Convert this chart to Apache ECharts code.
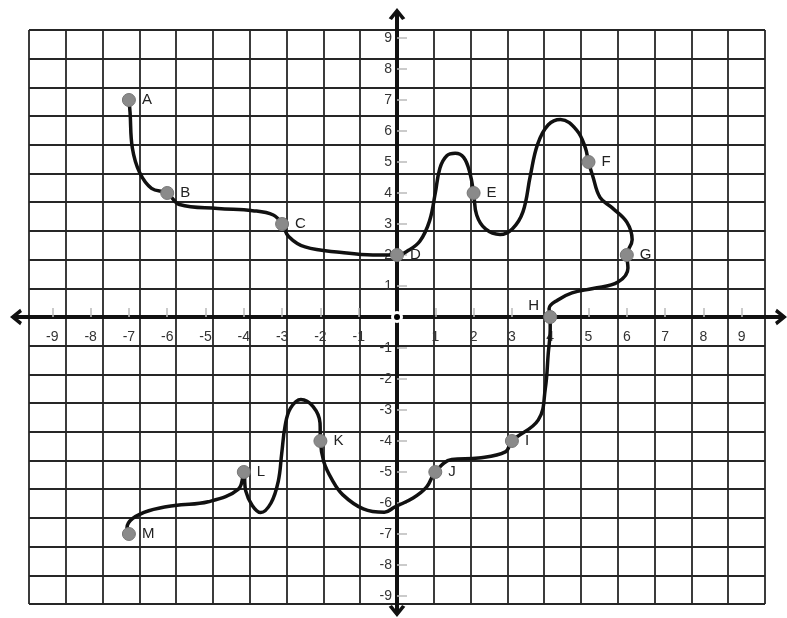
<!DOCTYPE html>
<html>
<head>
<meta charset="utf-8">
<script src="https://cdn.jsdelivr.net/npm/echarts@6/dist/echarts.min.js"></script>
<style>
html,body{margin:0;padding:0;background:#fff;}
#chart{width:787px;height:618px;}
</style>
</head>
<body>
<div id="chart"></div>
<script>
// tick labels on both axes (no 0)
var xTicks = [-9,-8,-7,-6,-5,-4,-3,-2,-1,1,2,3,4,5,6,7,8,9];
var yTicks = [-9,-8,-7,-6,-5,-4,-3,-2,-1,1,2,3,4,5,6,7,8,9];

// labelled points
var pointNames = ['A','B','C','D','E','F','G','H','I','J','K','L','M'];
var pointX = [-7,-6,-3,0,2,5,6,4,3,1,-2,-4,-7];
var pointY = [7,4,3,2,4,5,2,0,-4,-5,-4,-5,-7];

// the curve, in drawing order A -> M
var curveX = [-7,-6.97,-6.91,-6.72,-6.41,-6,-5.68,-4.68,-3.77,-3.23,-3,-2.83,-2.4,-1.44,-0.63,0,
  0.3,0.6,0.85,1.0,1.12,1.3,1.52,1.74,1.9,2,2.08,2.31,2.69,3.01,3.29,3.48,3.67,3.95,4.27,4.69,4.92,5,
  5.11,5.3,5.62,6,6.14,6,6.03,5.77,5.12,4.57,4.2,3.97,4,
  4,3.95,3.87,3.69,3,2.83,2.13,1.43,1,0.77,0.42,-0.06,-0.33,
  -0.88,-1.42,-1.7,-1.91,-2,-2.01,-2.19,-2.51,-2.78,-2.92,-3.01,-3.1,-3.29,-3.56,-3.78,-3.95,-4,
  -4.14,-4.93,-5.8,-6.48,-6.9,-7.05,-7];
var curveY = [7,6.6,5.45,4.66,4.15,4,3.63,3.5,3.43,3.29,3,2.6,2.26,2.08,2,2,
  2.15,2.45,3.1,4.0,4.8,5.2,5.28,5.15,4.66,4,3.29,2.84,2.66,2.84,3.4,4.55,5.57,6.2,6.37,6.03,5.45,5,
  4.55,3.86,3.52,3.06,2.49,2,1.58,1.13,0.92,0.78,0.55,0.27,0,
  -0.41,-1.16,-2.33,-3.32,-4,-4.35,-4.55,-4.6,-5,-5.49,-5.84,-6.13,-6.3,
  -6.19,-5.73,-5.24,-4.68,-4,-3.42,-2.89,-2.66,-2.94,-3.5,-4.4,-5.3,-6,-6.31,-6.08,-5.61,-5,
  -5.55,-5.96,-6.08,-6.25,-6.5,-6.8,-7];

var curveData = [];
for(var i=0;i<curveX.length;i++){
	curveData.push([curveX[i],curveY[i]]);
}
var pointData = [];
for(var j=0;j<pointNames.length;j++){
	var item = {name:pointNames[j],value:[pointX[j],pointY[j]]};
	// H sits on the axis, its letter is up-left
	if(pointNames[j]=='H'){
		item.label = {position:'left',offset:[2,-11]};
	}
	pointData.push(item);
}

var chevron = 'path://M0,11 L9,0 L18,11 L14.5,13 L9,6 L3.5,13 Z';
var gridLine = {show:true,lineStyle:{color:'#262626',width:1.8}};
var tickFont = {color:'#333',fontSize:14,fontFamily:'Liberation Sans'};

var myChart = echarts.init(document.getElementById('chart'));
var option = {
	backgroundColor:'#fff',
	animation:false,
	grid:[
		{left:29,top:30,width:736,height:574},
		{left:16,top:14,width:765,height:597}
	],
	xAxis:[
		{gridIndex:0,type:'value',min:-10,max:10,interval:1,
			axisLine:{show:false},axisTick:{show:false},axisLabel:{show:false},splitLine:gridLine},
		// main x axis, moved up from the bottom edge onto y=0
		{gridIndex:1,type:'value',min:-9.948,max:10.026,position:'bottom',offset:-294,
			axisLine:{onZero:false,lineStyle:{color:'#111',width:4},symbol:[chevron,chevron],symbolSize:[18,12]},
			axisTick:{show:true,inside:true,length:9,customValues:xTicks,lineStyle:{color:'#bbb',width:1.5}},
			axisLabel:Object.assign({customValues:xTicks,margin:13},tickFont),
			splitLine:{show:false}}
	],
	yAxis:[
		{gridIndex:0,type:'value',min:-10,max:10,interval:1,
			axisLine:{show:false},axisTick:{show:false},axisLabel:{show:false},splitLine:gridLine},
		// main y axis, moved right from the left edge onto x=0
		{gridIndex:1,type:'value',min:-9.484,max:9.774,position:'left',offset:-381,
			axisLine:{onZero:false,lineStyle:{color:'#111',width:4},symbol:[chevron,chevron],symbolSize:[18,12]},
			axisTick:{show:true,inside:true,length:10,customValues:yTicks,lineStyle:{color:'#bbb',width:1.5}},
			axisLabel:Object.assign({customValues:yTicks,margin:5},tickFont),
			splitLine:{show:false}}
	],
	series:[
		{
			type:'line',
			xAxisIndex:1,yAxisIndex:1,
			data:curveData,
			smooth:0.4,
			showSymbol:false,
			lineStyle:{color:'#111',width:3.5},
			z:3
		},
		{
			type:'scatter',
			xAxisIndex:1,yAxisIndex:1,
			data:pointData,
			symbolSize:13,
			itemStyle:{color:'#8a8a8a',borderColor:'#777',borderWidth:1,opacity:1},
			label:{show:true,position:'right',distance:6,formatter:'{b}',color:'#222',fontSize:15,fontFamily:'Liberation Sans'},
			z:4
		},
		{
			type:'scatter',
			xAxisIndex:1,yAxisIndex:1,
			data:[[0,0]],
			symbolSize:9,
			itemStyle:{color:'#000',borderColor:'#fff',borderWidth:3,opacity:1},
			z:5
		}
	]
};
myChart.setOption(option);
</script>
</body>
</html>
